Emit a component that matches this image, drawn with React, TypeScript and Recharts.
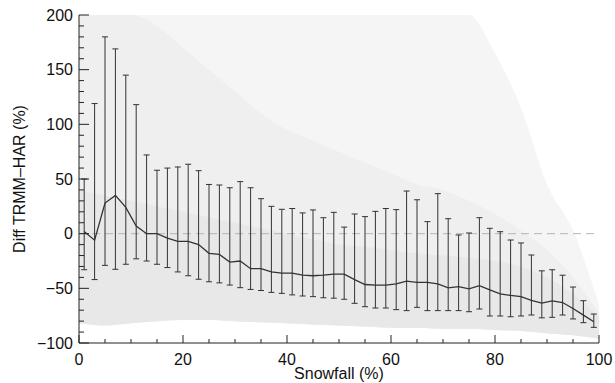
import {
  ComposedChart,
  Line,
  Area,
  XAxis,
  YAxis,
  ErrorBar,
  ReferenceLine,
} from "recharts";

// bin centres of the 2 % snowfall bins
const binCenters = [
  1, 3, 5, 7, 9, 11, 13, 15, 17, 19, 21, 23, 25, 27, 29, 31, 33, 35, 37, 39,
  41, 43, 45, 47, 49, 51, 53, 55, 57, 59, 61, 63, 65, 67, 69, 71, 73, 75, 77,
  79, 81, 83, 85, 87, 89, 91, 93, 95, 97, 99,
];

const meanDiff = [
  2, -6, 28, 35, 24, 7, 0, 0, -4, -7, -7, -10, -18, -19, -26, -25, -32, -32,
  -35, -36, -36, -38, -38.5, -38, -37, -37, -42, -46.5, -47, -47, -46, -43.5,
  -44.5, -44.5, -46, -49.5, -48.5, -50.5, -47.5, -51.5, -55, -56.5, -57.5,
  -61, -63.5, -61.5, -63, -68.5, -74.5, -80.5,
];

const upperWhisker = [
  50, 119, 180, 169, 145, 118, 72, 58, 60, 61, 63.5, 57.6, 45, 44.5, 42, 47.6,
  42, 32, 25, 22.3, 23, 19, 21.7, 14.6, 19.5, 6, 18, 15.6, 20.4, 23, 22, 39,
  31, 11, 36.6, 13.7, -1.2, 0.6, 14.6, 4.9, 1.8, -5.8, -8.5, -19.5, -34, -33,
  -38, -48.8, -61.3, -73.5,
];

const lowerWhisker = [
  -33, -42, -29, -32.6, -28, -23, -25, -28, -31, -35, -38.5, -41.7, -44, -45,
  -47, -49.4, -51, -52, -53.7, -54.6, -56, -57, -57.6, -58.6, -59, -60, -63.7,
  -66.8, -68, -68, -69.5, -70.4, -67.4, -70.4, -70.4, -70.4, -70.4, -71.4,
  -68.9, -75.3, -75.3, -76, -75.3, -74.4, -77, -76.5, -74.4, -78, -81.4,
  -85.7,
];

const envX = [
  0, 5, 10, 15, 20, 25, 30, 35, 40, 45, 50, 55, 60, 65, 70, 75, 80, 85, 90, 95,
  100,
];
const cloudBottom = [
  -82, -84, -82, -80, -79, -79, -80, -81, -82, -83, -84, -85, -86, -86, -87,
  -87, -88, -89, -91, -93, -96,
];
const cloudTopSparse = [
  200, 200, 200, 200, 200, 200, 200, 200, 200, 200, 200, 200, 200, 200, 200,
  200, 165, 115, 45, 3, -65,
];
const cloudTopMid = [
  200, 200, 200, 190, 170, 150, 130, 110, 95, 85, 75, 65, 55, 45, 40, 30, 18,
  3, -15, -40, -72,
];
const cloudTopDense = [
  40, 35, 30, 25, 20, 15, 10, 5, 0, -5, -10, -12, -15, -18, -20, -22, -25, -30,
  -40, -55, -76,
];

const yTicks = [
  -100, -90, -80, -70, -60, -50, -40, -30, -20, -10, 0, 10, 20, 30, 40, 50, 60,
  70, 80, 90, 100, 110, 120, 130, 140, 150, 160, 170, 180, 190, 200,
];
const xTicks = [
  0, 5, 10, 15, 20, 25, 30, 35, 40, 45, 50, 55, 60, 65, 70, 75, 80, 85, 90, 95,
  100,
];

const FONT = "'Liberation Sans', Arial, sans-serif";
const INK = "#222";

const rowMap = new Map<number, any>();
binCenters.forEach((x, i) => {
  rowMap.set(x, {
    x,
    mean: meanDiff[i],
    err: [meanDiff[i] - lowerWhisker[i], upperWhisker[i] - meanDiff[i]],
  });
});
envX.forEach((x, i) => {
  const row = rowMap.get(x) ?? { x };
  row.sparse = [cloudBottom[i], cloudTopSparse[i]];
  row.mid = [cloudBottom[i], cloudTopMid[i]];
  row.dense = [cloudBottom[i], cloudTopDense[i]];
  rowMap.set(x, row);
});
const data = [...rowMap.values()].sort((a, b) => a.x - b.x);

function YTick(props: any) {
  const { x, y, payload } = props;
  const v = payload.value;
  const major = v % 50 === 0;
  return (
    <g>
      <line x1={x} x2={x + (major ? 10 : 5)} y1={y} y2={y} stroke={INK} />
      {major && (
        <text
          x={x - 6}
          y={y + 5.5}
          textAnchor="end"
          fontSize={16}
          fontFamily={FONT}
          fill="#111"
        >
          {v < 0 ? `\u2212${-v}` : v}
        </text>
      )}
    </g>
  );
}

function XTick(props: any) {
  const { x, y, payload } = props;
  const v = payload.value;
  const major = v % 20 === 0;
  return (
    <g>
      <line x1={x} x2={x} y1={y} y2={y - (major ? 8 : 4)} stroke={INK} />
      {major && (
        <text
          x={x}
          y={y + 21.5}
          textAnchor="middle"
          fontSize={16}
          fontFamily={FONT}
          fill="#111"
        >
          {v}
        </text>
      )}
    </g>
  );
}

function XTitle(props: any) {
  const { viewBox } = props;
  return (
    <text
      x={viewBox.x + viewBox.width / 2}
      y={viewBox.y + 36}
      textAnchor="middle"
      fontSize={16}
      fontFamily={FONT}
      fill="#111"
    >
      Snowfall (%)
    </text>
  );
}

function YTitle(props: any) {
  const { viewBox } = props;
  const cy = viewBox.y + viewBox.height / 2;
  return (
    <text
      transform={`translate(25, ${cy}) rotate(-90)`}
      textAnchor="middle"
      fontSize={16}
      fontFamily={FONT}
      fill="#111"
    >
      Diff TRMM–HAR (%)
    </text>
  );
}

export default function App() {
  return (
    <div style={{ position: "absolute", left: 0, top: 0, background: "#fff" }}>
      <ComposedChart
        width={615}
        height={383}
        data={data}
        margin={{ top: 15, right: 16, bottom: 0, left: 0 }}
      >
        <XAxis
          type="number"
          dataKey="x"
          domain={[0, 100]}
          ticks={xTicks}
          interval={0}
          height={40}
          tickSize={0}
          tickMargin={0}
          tick={<XTick />}
          axisLine={{ stroke: INK }}
          label={<XTitle />}
        />
        <YAxis
          type="number"
          domain={[-100, 200]}
          ticks={yTicks}
          interval={0}
          width={79}
          tickSize={0}
          tickMargin={0}
          tick={<YTick />}
          axisLine={{ stroke: INK }}
          allowDataOverflow
          label={<YTitle />}
        />
        <Area
          dataKey="sparse"
          type="monotone"
          stroke="none"
          fill="#f5f5f5"
          fillOpacity={1}
          connectNulls
          isAnimationActive={false}
        />
        <Area
          dataKey="mid"
          type="monotone"
          stroke="none"
          fill="#efefef"
          fillOpacity={1}
          connectNulls
          isAnimationActive={false}
        />
        <Area
          dataKey="dense"
          type="monotone"
          stroke="none"
          fill="#e8e8e8"
          fillOpacity={1}
          connectNulls
          isAnimationActive={false}
        />
        <ReferenceLine
          y={0}
          stroke="#b5b5b5"
          strokeDasharray="8 5"
          strokeWidth={1}
        />
        <Line
          dataKey="mean"
          type="linear"
          stroke="#333"
          strokeWidth={1.3}
          dot={false}
          activeDot={false}
          connectNulls
          isAnimationActive={false}
        >
          <ErrorBar
            dataKey="err"
            direction="y"
            width={3}
            stroke="#333"
            strokeWidth={1}
            isAnimationActive={false}
          />
        </Line>
      </ComposedChart>
    </div>
  );
}
